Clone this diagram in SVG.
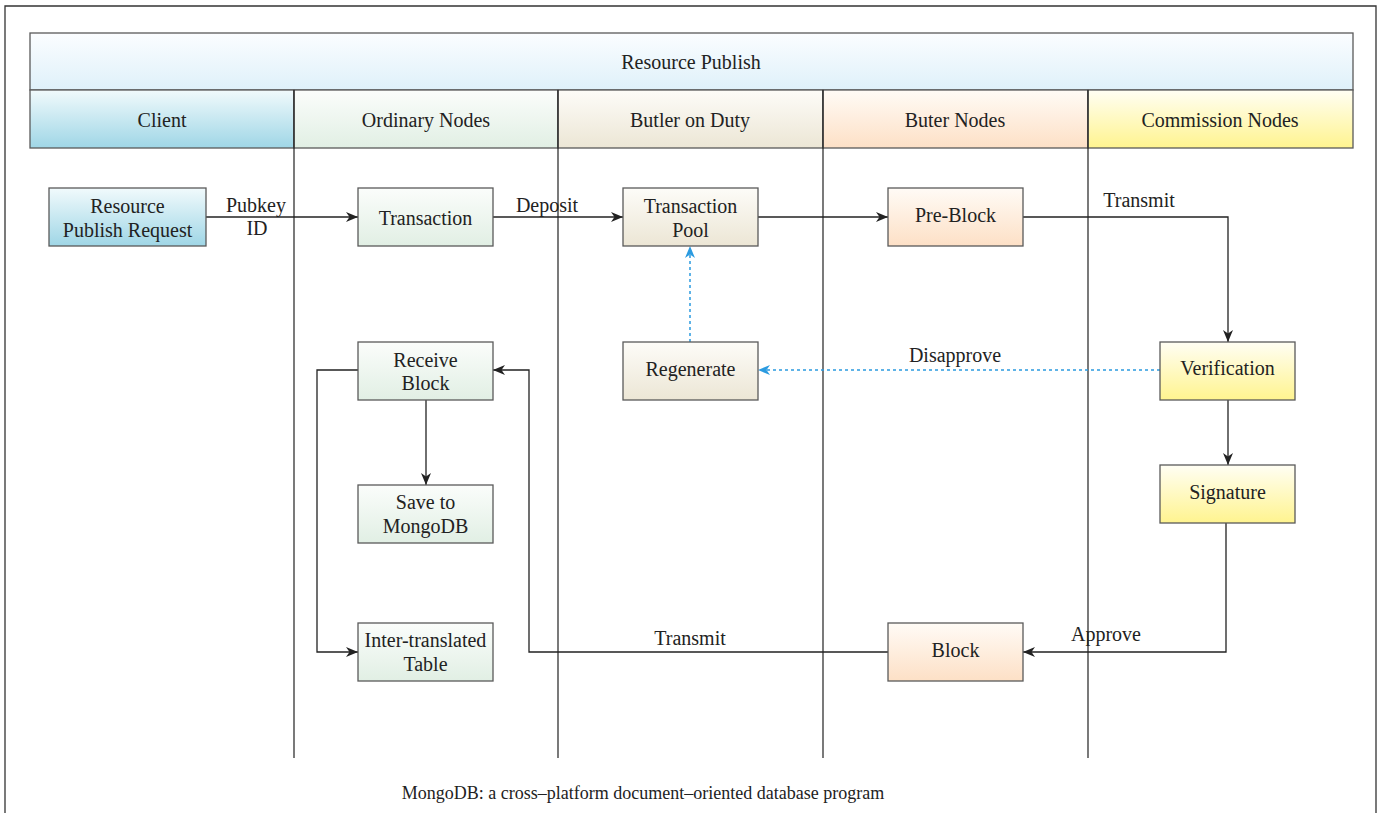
<svg xmlns="http://www.w3.org/2000/svg" width="1381" height="813" viewBox="0 0 1381 813" font-family="'Liberation Serif', 'Times New Roman', Tinos, 'DejaVu Serif', serif">
  <style>
    text { font-family: "Liberation Serif", "Times New Roman", Tinos, "DejaVu Serif", serif; fill: #222; }
    .hd { font-size: 20px; text-anchor: middle; }
    .nt { font-size: 20px; text-anchor: middle; }
    .lbl { font-size: 20px; text-anchor: middle; }
    .foot { font-size: 18px; text-anchor: middle; }
    .box { stroke: #5a5a5a; stroke-width: 1.3; }
    .lane { stroke: #222; stroke-width: 1.2; fill: none; }
    .edge { stroke: #222; stroke-width: 1.3; fill: none; }
    .dash { stroke: #2b9be0; stroke-width: 1.5; fill: none; stroke-dasharray: 3 3; }
  </style>
  <defs>
    <linearGradient id="gTitle" x1="0" y1="0" x2="0" y2="1">
      <stop offset="0" stop-color="#fbfdff"/>
      <stop offset="1" stop-color="#dff1fa"/>
    </linearGradient>
    <linearGradient id="gBlue" x1="0" y1="0" x2="0" y2="1">
      <stop offset="0" stop-color="#f1fafc"/>
      <stop offset="1" stop-color="#9fd6e6"/>
    </linearGradient>
    <linearGradient id="gGreen" x1="0" y1="0" x2="0" y2="1">
      <stop offset="0" stop-color="#fbfdfb"/>
      <stop offset="1" stop-color="#e1efe4"/>
    </linearGradient>
    <linearGradient id="gBeige" x1="0" y1="0" x2="0" y2="1">
      <stop offset="0" stop-color="#fdfcf8"/>
      <stop offset="1" stop-color="#ece6d5"/>
    </linearGradient>
    <linearGradient id="gPeach" x1="0" y1="0" x2="0" y2="1">
      <stop offset="0" stop-color="#fffbf6"/>
      <stop offset="1" stop-color="#fde0c6"/>
    </linearGradient>
    <linearGradient id="gYellow" x1="0" y1="0" x2="0" y2="1">
      <stop offset="0" stop-color="#fffef4"/>
      <stop offset="1" stop-color="#fff48f"/>
    </linearGradient>
    <marker id="arr" viewBox="0 0 12 10" refX="12" refY="5" markerWidth="12" markerHeight="10" markerUnits="userSpaceOnUse" orient="auto">
      <path d="M0,0 L12,5 L0,10 L3.5,5 Z" fill="#222"/>
    </marker>
    <marker id="arrBlue" viewBox="0 0 12 10" refX="12" refY="5" markerWidth="12" markerHeight="10" markerUnits="userSpaceOnUse" orient="auto">
      <path d="M0,0 L12,5 L0,10 L3.5,5 Z" fill="#2b9be0"/>
    </marker>
  </defs>

  <rect width="1381" height="813" fill="#fff"/>
  <!-- outer frame -->
  <path d="M5,813 V6 H1376 V813" fill="none" stroke="#333" stroke-width="1.3"/>

  <!-- header band -->
  <g id="header">
    <rect x="30" y="33" width="1323" height="57" fill="url(#gTitle)" class="box"/>
    <text class="hd" x="691" y="69">Resource Publish</text>
    <rect x="30" y="90" width="264" height="58" fill="url(#gBlue)" class="box"/>
    <text class="hd" x="162" y="127">Client</text>
    <rect x="294" y="90" width="264" height="58" fill="url(#gGreen)" class="box"/>
    <text class="hd" x="426" y="127">Ordinary Nodes</text>
    <rect x="558" y="90" width="265" height="58" fill="url(#gBeige)" class="box"/>
    <text class="hd" x="690" y="127">Butler on Duty</text>
    <rect x="823" y="90" width="265" height="58" fill="url(#gPeach)" class="box"/>
    <text class="hd" x="955" y="127">Buter Nodes</text>
    <rect x="1088" y="90" width="265" height="58" fill="url(#gYellow)" class="box"/>
    <text class="hd" x="1220" y="127">Commission Nodes</text>
  </g>

  <!-- lane separators -->
  <g id="lanes">
    <path class="lane" d="M294,90 V758 M558,90 V758 M823,90 V758 M1088,90 V758"/>
  </g>

  <!-- connectors -->
  <g id="connectors">
    <path class="edge" d="M206,217 H358" marker-end="url(#arr)"/>
    <path class="edge" d="M493,217 H623" marker-end="url(#arr)"/>
    <path class="edge" d="M758,217 H888" marker-end="url(#arr)"/>
    <path class="edge" d="M1023,217 H1228 V342" marker-end="url(#arr)"/>
    <path class="edge" d="M1228,400 V465" marker-end="url(#arr)"/>
    <path class="edge" d="M1226,523 V652 H1023" marker-end="url(#arr)"/>
    <path class="edge" d="M888,652 H529 V370 H493" marker-end="url(#arr)"/>
    <path class="edge" d="M426,400 V485" marker-end="url(#arr)"/>
    <path class="edge" d="M358,370 H317 V652 H358" marker-end="url(#arr)"/>
    <path class="dash" d="M1160,370 H758" marker-end="url(#arrBlue)"/>
    <path class="dash" d="M690,342 V246" marker-end="url(#arrBlue)"/>
    <text class="lbl" x="256" y="212">Pubkey</text>
    <text class="lbl" x="257" y="235">ID</text>
    <text class="lbl" x="547" y="212">Deposit</text>
    <text class="lbl" x="1139" y="207">Transmit</text>
    <text class="lbl" x="955" y="362">Disapprove</text>
    <text class="lbl" x="1106" y="641">Approve</text>
    <text class="lbl" x="690" y="645">Transmit</text>
  </g>

  <g id="n-request">
    <rect x="49" y="188" width="157" height="58" fill="url(#gBlue)" class="box"/>
    <text class="nt" x="127.5" y="213">Resource</text>
    <text class="nt" x="127.5" y="237">Publish Request</text>
  </g>
  <g id="n-transaction">
    <rect x="358" y="188" width="135" height="58" fill="url(#gGreen)" class="box"/>
    <text class="nt" x="425.5" y="225">Transaction</text>
  </g>
  <g id="n-pool">
    <rect x="623" y="188" width="135" height="58" fill="url(#gBeige)" class="box"/>
    <text class="nt" x="690.5" y="213">Transaction</text>
    <text class="nt" x="690.5" y="237">Pool</text>
  </g>
  <g id="n-preblock">
    <rect x="888" y="188" width="135" height="58" fill="url(#gPeach)" class="box"/>
    <text class="nt" x="955.5" y="222">Pre-Block</text>
  </g>
  <g id="n-verification">
    <rect x="1160" y="342" width="135" height="58" fill="url(#gYellow)" class="box"/>
    <text class="nt" x="1227.5" y="375">Verification</text>
  </g>
  <g id="n-signature">
    <rect x="1160" y="465" width="135" height="58" fill="url(#gYellow)" class="box"/>
    <text class="nt" x="1227.5" y="499">Signature</text>
  </g>
  <g id="n-receive">
    <rect x="358" y="342" width="135" height="58" fill="url(#gGreen)" class="box"/>
    <text class="nt" x="425.5" y="367">Receive</text>
    <text class="nt" x="425.5" y="390">Block</text>
  </g>
  <g id="n-regenerate">
    <rect x="623" y="342" width="135" height="58" fill="url(#gBeige)" class="box"/>
    <text class="nt" x="690.5" y="376">Regenerate</text>
  </g>
  <g id="n-save">
    <rect x="358" y="485" width="135" height="58" fill="url(#gGreen)" class="box"/>
    <text class="nt" x="425.5" y="509">Save to</text>
    <text class="nt" x="425.5" y="533">MongoDB</text>
  </g>
  <g id="n-table">
    <rect x="358" y="623" width="135" height="58" fill="url(#gGreen)" class="box"/>
    <text class="nt" x="425.5" y="647">Inter-translated</text>
    <text class="nt" x="425.5" y="671">Table</text>
  </g>
  <g id="n-block">
    <rect x="888" y="623" width="135" height="58" fill="url(#gPeach)" class="box"/>
    <text class="nt" x="955.5" y="657">Block</text>
  </g>

  <text class="foot" x="643" y="799">MongoDB: a cross–platform document–oriented database program</text>
</svg>
